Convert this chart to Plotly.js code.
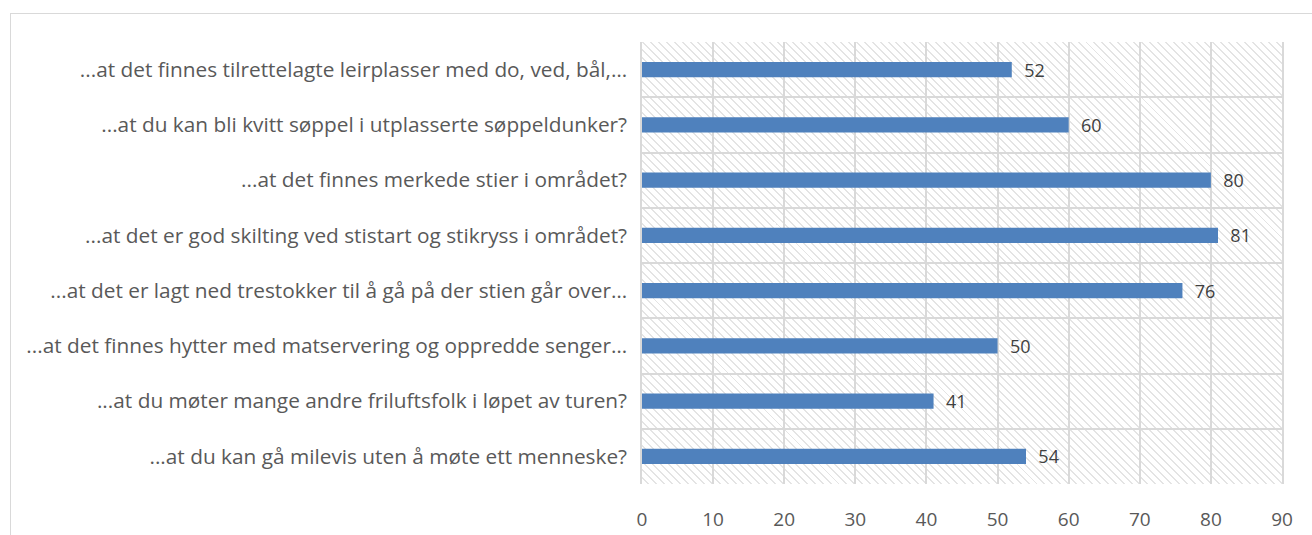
<!DOCTYPE html>
<html>
<head>
<meta charset="utf-8">
<script src="https://cdn.plot.ly/plotly-3.0.1.min.js"></script>
<style>
  body { margin: 0; background: #fff; }
  #frame {
    position: absolute; left: 10px; top: 13px; width: 1310px; height: 530px;
    border: 1.5px solid #d9d9d9; box-sizing: border-box;
  }
  #hatch {
    position: absolute; left: 642px; top: 42px; width: 640px; height: 442px;
    background: repeating-linear-gradient(45deg, #ffffff 0px, #ffffff 4.2px, #e4e4e4 4.2px, #e4e4e4 5.6px);
  }
  #chart { position: absolute; left: 0; top: 0; width: 1312px; height: 535px; }
</style>
</head>
<body>
<div id="frame"></div>
<div id="hatch"></div>
<div id="chart"></div>
<script>
// Survey items, top to bottom as shown
const items = [
    '...at det finnes tilrettelagte leirplasser med do, ved, bål,…',
    '...at du kan bli kvitt søppel i utplasserte søppeldunker?',
    '...at det finnes merkede stier i området?',
    '...at det er god skilting ved stistart og stikryss i området?',
    '...at det er lagt ned trestokker til å gå på der stien går over…',
    '...at det finnes hytter med matservering og oppredde senger…',
    '...at du møter mange andre friluftsfolk i løpet av turen?',
    '...at du kan gå milevis uten å møte ett menneske?'
];
const scores = [52, 60, 80, 81, 76, 50, 41, 54];
const xTicks = [0, 10, 20, 30, 40, 50, 60, 70, 80, 90];

const trace = {
    type: 'bar',
    orientation: 'h',
    x: scores,
    y: items,
    width: 0.28,
    marker: { color: '#4f81bd' },
    // leading no-break spaces push the value label away from the bar end
    text: scores.map(v => '\u00a0\u00a0' + v),
    textposition: 'outside',
    constraintext: 'none',
    cliponaxis: false,
    textfont: { family: 'Open Sans, sans-serif', size: 18, color: '#404040' },
    hoverinfo: 'x+y'
};

const layout = {
    width: 1312,
    height: 535,
    margin: { l: 642, r: 30, t: 42, b: 51 },
    paper_bgcolor: 'rgba(0,0,0,0)',
    plot_bgcolor: 'rgba(0,0,0,0)',
    showlegend: false,
    font: { family: 'Open Sans, sans-serif', size: 18, color: '#595959' },
    xaxis: {
        range: [0, 90],
        tickvals: xTicks,
        showgrid: true,
        gridcolor: '#d9d9d9',
        gridwidth: 1.5,
        zeroline: false,
        showline: false,
        ticks: '',
        ticklabelstandoff: 22,
        tickfont: { size: 19, color: '#595959' },
        fixedrange: true
    },
    yaxis: {
        type: 'category',
        autorange: 'reversed',
        tickson: 'boundaries',
        showgrid: true,
        gridcolor: '#d9d9d9',
        gridwidth: 1.5,
        showline: true,
        linecolor: '#d9d9d9',
        linewidth: 1.5,
        mirror: true,
        ticks: '',
        ticklabelstandoff: 9,
        tickfont: { size: 20.8, color: '#595959' },
        fixedrange: true
    },
    bargap: 0.72
};

Plotly.newPlot('chart', [trace], layout, { displayModeBar: false });
</script>
</body>
</html>
